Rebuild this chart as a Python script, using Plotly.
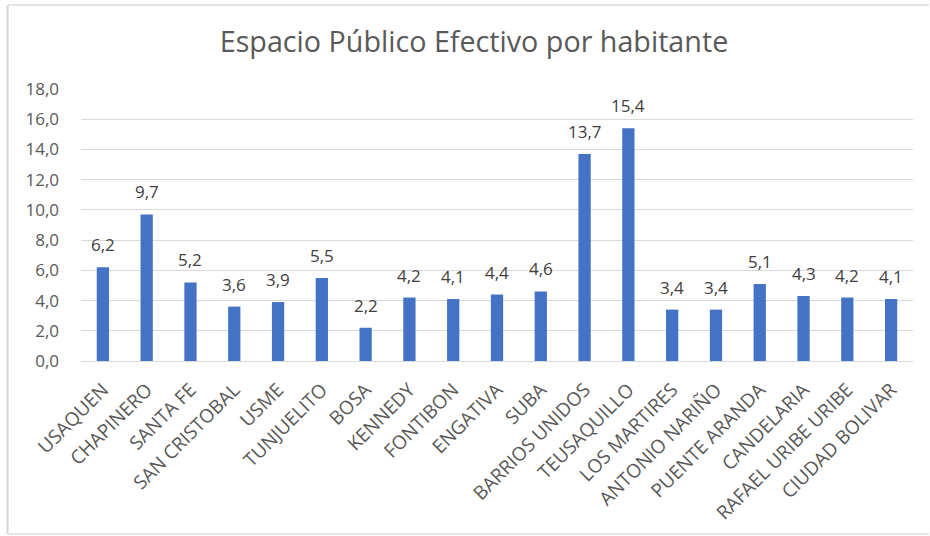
import plotly.graph_objects as go

localidades = ["USAQUEN", "CHAPINERO", "SANTA FE", "SAN CRISTOBAL", "USME", "TUNJUELITO",
               "BOSA", "KENNEDY", "FONTIBON", "ENGATIVA", "SUBA", "BARRIOS UNIDOS",
               "TEUSAQUILLO", "LOS MARTIRES", "ANTONIO NARIÑO", "PUENTE ARANDA",
               "CANDELARIA", "RAFAEL URIBE URIBE", "CIUDAD BOLIVAR"]
epe = [6.2, 9.7, 5.2, 3.6, 3.9, 5.5, 2.2, 4.2, 4.1, 4.4, 4.6, 13.7, 15.4, 3.4, 3.4, 5.1, 4.3, 4.2, 4.1]
y_ticks = [0, 2, 4, 6, 8, 10, 12, 14, 16, 18]

W, H = 930, 536
L, R, T, B = 81, 17, 89, 175
pw, ph = W - L - R, H - T - B
FONT = "Open Sans, sans-serif"

def px(x):
    return (x - L) / pw

def py(y):
    return (H - B - y) / ph

fig = go.Figure()
fig.add_trace(go.Bar(
    x=localidades, y=epe,
    marker=dict(color="#4472C4", line=dict(width=0)),
    hoverinfo="x+y",
))

annotations = [
    dict(x=c, y=v, xref="x", yref="y", text=f"{v:.1f}".replace(".", ","),
         showarrow=False, xanchor="center", yanchor="bottom", yshift=9,
         font=dict(family=FONT, size=17, color="#404040"))
    for c, v in zip(localidades, epe)
]

fig.update_layout(
    width=W, height=H,
    margin=dict(l=L, r=R, t=T, b=B, autoexpand=False),
    paper_bgcolor="white", plot_bgcolor="white",
    separators=",.",
    bargap=0.72,
    showlegend=False,
    annotations=annotations,
    title=dict(text="Espacio Público Efectivo por habitante",
               x=474 / W, xanchor="center", y=1 - 42 / H, yanchor="middle",
               font=dict(family=FONT, size=28.7, color="#595959")),
    font=dict(family=FONT, color="#595959"),
    shapes=[
        dict(type="path", xref="paper", yref="paper",
             path=f"M {px(929)} {py(5)} L {px(8)} {py(5)} M {px(8)} {py(534)} L {px(929)} {py(534)}",
             line=dict(color="#dcdcdc", width=1.3)),
        dict(type="line", xref="paper", yref="paper",
             x0=px(7.5), x1=px(7.5), y0=py(5), y1=py(534),
             line=dict(color="#d9d9d9", width=2.2)),
    ],
)
fig.update_yaxes(range=[0, 18], tickvals=y_ticks, tickformat=".1f", automargin=False,
                 showgrid=True, gridcolor="#d9d9d9", gridwidth=1,
                 zeroline=True, zerolinecolor="#d9d9d9", zerolinewidth=1,
                 tickfont=dict(family=FONT, size=17, color="#595959"), ticks="", ticklabelstandoff=21)
fig.update_xaxes(tickangle=-45, tickfont=dict(family=FONT, size=19, color="#595959"),
                 showline=False, ticks="", automargin=False, ticklabelstandoff=13)

fig.write_html("out.html", config={"displayModeBar": False},
               post_script="document.body.style.margin='0';")
